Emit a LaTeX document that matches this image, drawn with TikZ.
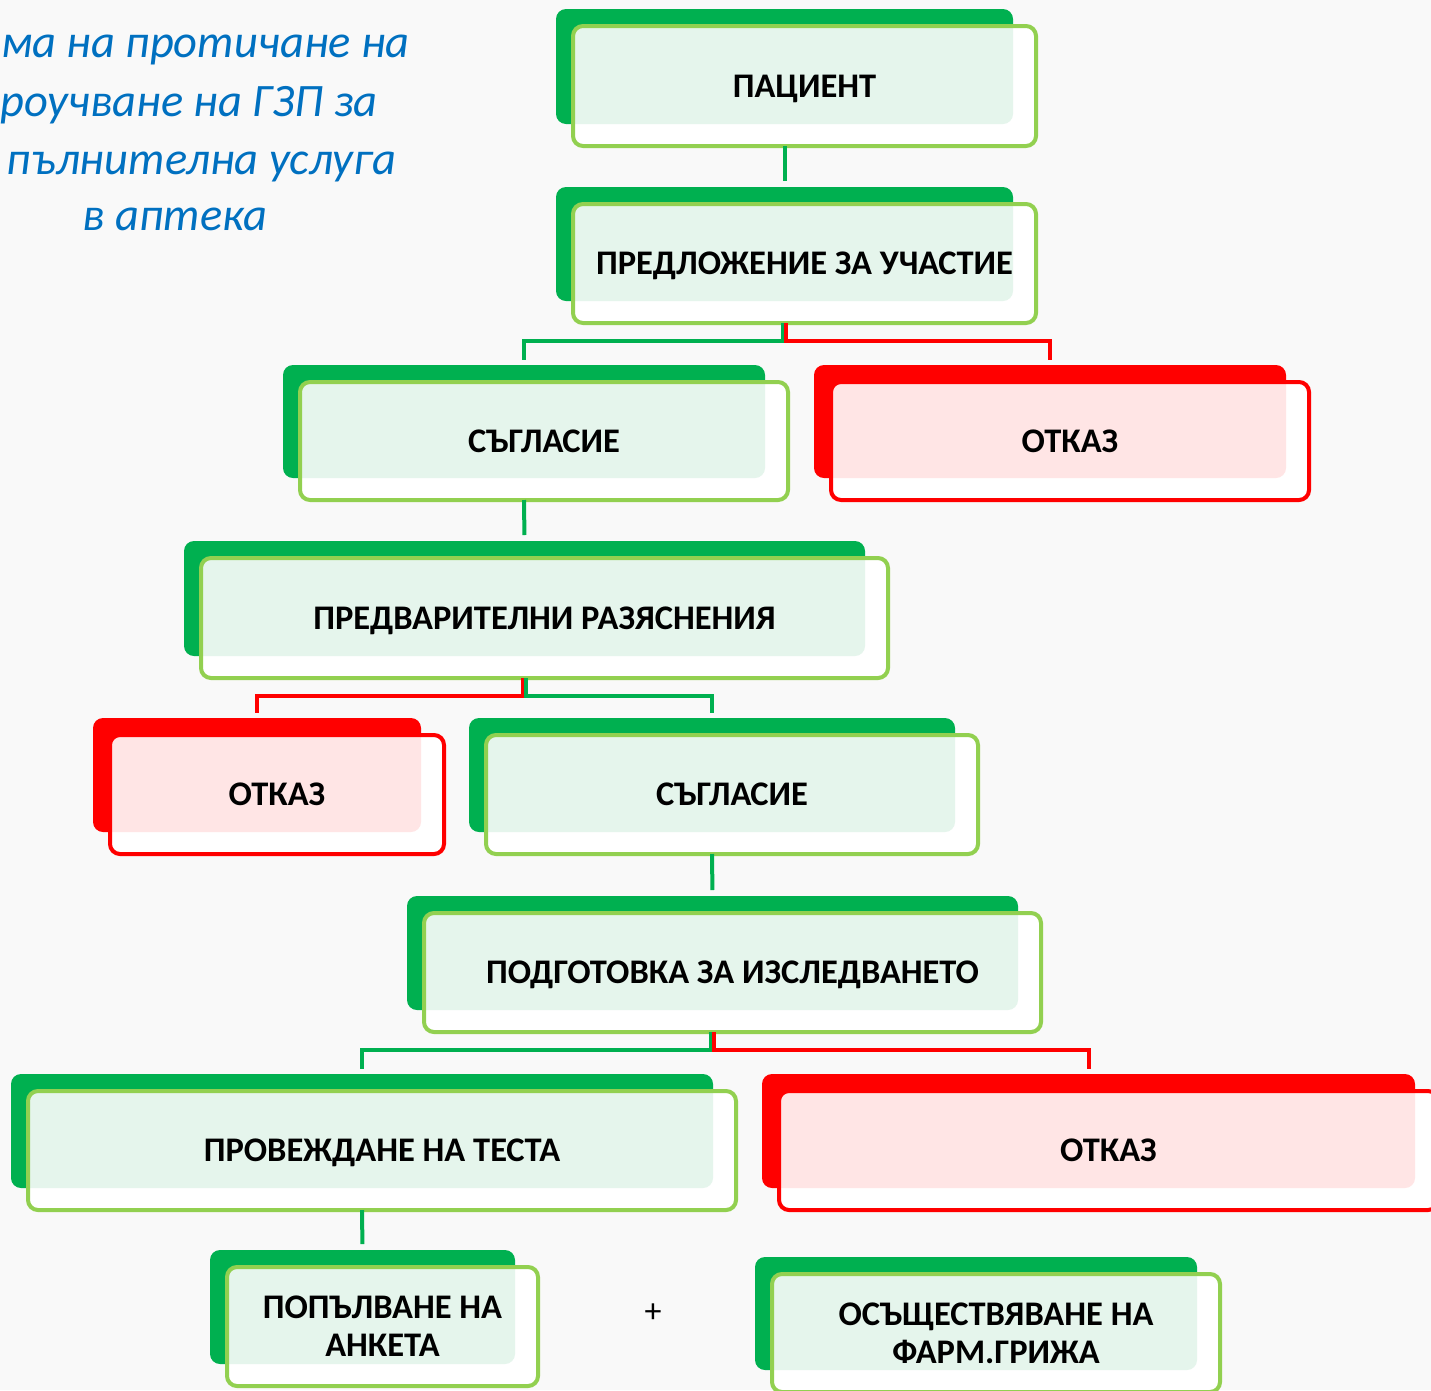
\documentclass[tikz,border=0pt]{standalone}
\usepackage{fontspec}
\setmainfont{Carlito}
\usetikzlibrary{calc}
\definecolor{dg}{HTML}{00B050}
\definecolor{lg}{HTML}{92D050}
\definecolor{pg}{HTML}{E5F5EC}
\definecolor{rd}{HTML}{FF0000}
\definecolor{pr}{HTML}{FFE5E5}
\definecolor{tb}{HTML}{0070C0}
\definecolor{bgc}{HTML}{F9F9F9}
\tikzset{
  backbox/.style={rectangle,rounded corners=10pt,draw=none,inner sep=0pt,outer sep=0pt},
  frontbox/.style={rectangle,rounded corners=10pt,line width=4pt,fill=white,inner sep=0pt,outer sep=0pt,
     align=center,text depth=0pt,font=\bfseries\fontsize{34.5}{38}\selectfont},
  gconn/.style={draw=dg,line width=4pt},
  rconn/.style={draw=rd,line width=4pt},
  ttl/.style={font=\itshape\fontsize{46.5}{57}\selectfont,text=tb,inner sep=0pt}
}
% #1 name, #2-#5 back box x1,y1,x2,y2, #6 back colour, #7 outline, #8 pale, #9 text
\newcommand\flowbox[9]{%
  \pgfmathsetmacro\bw{#4-#2}\pgfmathsetmacro\bh{#5-#3}%
  \pgfmathsetmacro\bx{(#2+#4)/2}\pgfmathsetmacro\by{(#3+#5)/2}%
  \pgfmathsetmacro\fw{#4-#2+6}\pgfmathsetmacro\fh{#5-#3+5}%
  \pgfmathsetmacro\fx{(#2+#4)/2+20}\pgfmathsetmacro\fy{(#3+#5)/2+19.5}%
  \node[backbox,fill=#6,minimum width=\bw pt,minimum height=\bh pt] (#1B) at (\bx,\by) {};
  \node[frontbox,draw=#7,minimum width=\fw pt,minimum height=\fh pt,
    path picture={\fill[#8,rounded corners=10pt] (#1B.south west) rectangle (#1B.north east);}]
    (#1) at (\fx,\fy) {#9};
}
\begin{document}
\begin{tikzpicture}[x=1pt,y=-1pt]
\useasboundingbox (0,0) rectangle (1431,1390);
\fill[bgc] (0,0) rectangle (1431,1390);

% title
\node[ttl,anchor=base east] (t1) at (410,57) {ма на протичане на};
\node[ttl,anchor=base east] (t2) at (378,116) {роучване на ГЗП за};
\node[ttl,anchor=base east] (t3) at (397,174) {пълнителна услуга};
\node[ttl,anchor=base] (t4) at (175,230) {в аптека};

% boxes
\flowbox{p}{556}{9}{1013}{124}{dg}{lg}{pg}{ПАЦИЕНТ}
\flowbox{q}{556}{187}{1013}{301}{dg}{lg}{pg}{ПРЕДЛОЖЕНИЕ ЗА УЧАСТИЕ}
\flowbox{sa}{283}{365}{765}{478}{dg}{lg}{pg}{СЪГЛАСИЕ}
\flowbox{ra}{814}{365}{1286}{478}{rd}{rd}{pr}{ОТКАЗ}
\flowbox{e}{184}{541}{865}{656}{dg}{lg}{pg}{ПРЕДВАРИТЕЛНИ РАЗЯСНЕНИЯ}
\flowbox{rb}{93}{718}{421}{832}{rd}{rd}{pr}{ОТКАЗ}
\flowbox{sb}{469}{718}{955}{832}{dg}{lg}{pg}{СЪГЛАСИЕ}
\flowbox{g}{407}{896}{1018}{1010}{dg}{lg}{pg}{ПОДГОТОВКА ЗА ИЗСЛЕДВАНЕТО}
\flowbox{t}{11}{1074}{713}{1188}{dg}{lg}{pg}{ПРОВЕЖДАНЕ НА ТЕСТА}
\flowbox{rc}{762}{1074}{1415}{1188}{rd}{rd}{pr}{ОТКАЗ}
\flowbox{a}{210}{1250}{515}{1364}{dg}{lg}{pg}{ПОПЪЛВАНЕ НА\\АНКЕТА}
\flowbox{f}{755}{1257}{1197}{1370}{dg}{lg}{pg}{ОСЪЩЕСТВЯВАНЕ НА\\ФАРМ.ГРИЖА}

\node[font=\fontsize{34}{38}\selectfont,inner sep=0pt] (plus) at (653,1313) {+};

% connectors
\draw[gconn,shorten >=6pt] (p.south -| pB.center) -- (qB.north);
\draw[gconn,shorten >=5pt] ([xshift=-1.5pt]q.south -| qB.center) -- ++(0,18) -| (saB.north);
\draw[rconn,shorten >=5pt] ([xshift=1.5pt]q.south -| qB.center) -- ++(0,18) -| (raB.north);
\draw[gconn,shorten >=6pt] (sa.south -| saB.center) -- (eB.north);
\draw[rconn,shorten >=5pt] ([xshift=-1.5pt]e.south -| eB.center) -- ++(0,18) -| (rbB.north);
\draw[gconn,shorten >=5pt] ([xshift=1.5pt]e.south -| eB.center) -- ++(0,18) -| (sbB.north);
\draw[gconn,shorten >=6pt] (sb.south -| sbB.center) -- (gB.north);
\draw[gconn,shorten >=5pt] ([xshift=-1.5pt]g.south -| gB.center) -- ++(0,18) -| (tB.north);
\draw[rconn,shorten >=5pt] ([xshift=1.5pt]g.south -| gB.center) -- ++(0,18) -| (rcB.north);
\draw[gconn,shorten >=6pt] (t.south -| tB.center) -- (aB.north);
\end{tikzpicture}
\end{document}
